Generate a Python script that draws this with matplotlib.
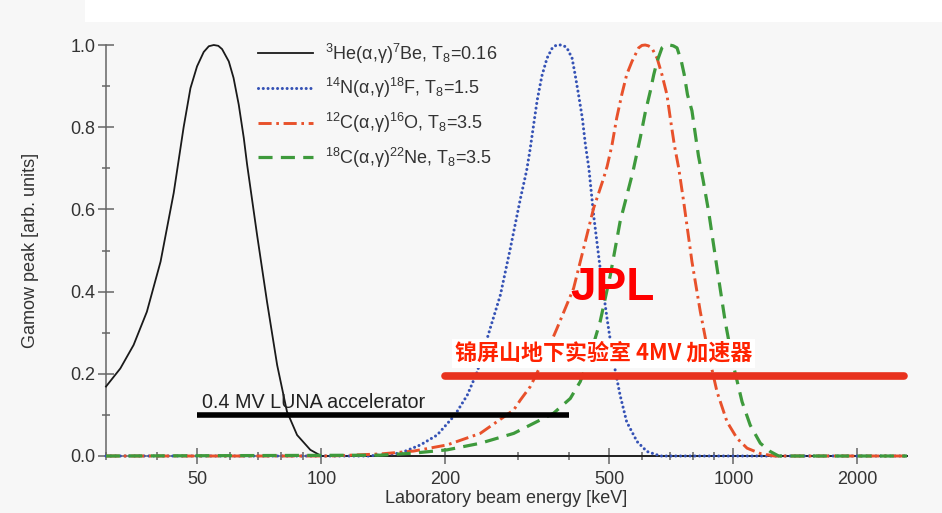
import matplotlib
matplotlib.use("Agg")
import matplotlib.pyplot as plt
from matplotlib.patches import Rectangle
from matplotlib.ticker import FixedLocator, NullFormatter, FixedFormatter

plt.rcParams['font.family'] = ['Liberation Sans', 'Noto Sans CJK SC', 'DejaVu Sans']
plt.rcParams['mathtext.fontset'] = 'custom'
plt.rcParams['mathtext.rm'] = 'Liberation Sans'
plt.rcParams['mathtext.it'] = 'Liberation Sans:italic'
plt.rcParams['mathtext.bf'] = 'Liberation Sans:bold'

# Gamow peaks: laboratory beam energy (keV) and normalised peak height
he_E = [30, 32.5, 35.0, 37.7, 40.7, 43.8, 46.3, 48.1, 49.9, 51.8, 53.3, 54.8, 56.2, 57.4,
        59.6, 61.2, 63.0, 64.8, 66.0, 69.8, 73.8, 78.1, 82.5, 87.3, 94, 100, 2640]
he_y = [0.169, 0.213, 0.270, 0.351, 0.473, 0.64, 0.80, 0.895, 0.948, 0.983, 0.997, 1.0, 0.998, 0.99,
        0.96, 0.92, 0.855, 0.774, 0.71, 0.538, 0.375, 0.221, 0.108, 0.051, 0.015, 0.0, 0.0]

n_E = [30, 130, 155.5, 174, 191, 211, 226, 239, 257, 272,
       287.5, 304, 315, 321, 328.5, 334, 343, 353, 363.6, 371,
       380, 388, 394.5, 406, 413, 421, 430, 437.5, 446, 458,
       475, 493.6, 512, 531, 551, 584, 617, 665, 2640]
n_y = [0.0, 0.0, 0.007, 0.027, 0.051, 0.100, 0.148, 0.205, 0.311, 0.392,
       0.505, 0.625, 0.695, 0.745, 0.815, 0.865, 0.925, 0.968, 0.993, 0.999,
       1.0, 0.998, 0.993, 0.968, 0.928, 0.879, 0.822, 0.757, 0.70, 0.586,
       0.457, 0.335, 0.229, 0.148, 0.083, 0.035, 0.011, 0.0, 0.0]

c_E = [30, 105, 139, 167.5, 202, 243, 293, 304, 321.5, 346,
       373, 409.5, 433, 458, 484, 494, 507.6, 521, 536, 551,
       567.5, 589, 600, 611, 622, 634, 653, 671, 690, 703,
       719, 737, 757.6, 793.5, 831.5, 871, 913, 965.6, 1021, 1080,
       1163, 1258, 2640]
c_y = [0.0, 0.0, 0.005, 0.012, 0.027, 0.055, 0.112, 0.136, 0.169, 0.234,
       0.31, 0.408, 0.505, 0.603, 0.675, 0.705, 0.757, 0.822, 0.879, 0.928,
       0.96, 0.993, 0.999, 1.0, 0.998, 0.993, 0.968, 0.928, 0.879, 0.822,
       0.757, 0.70, 0.619, 0.473, 0.351, 0.246, 0.156, 0.083, 0.043, 0.019,
       0.006, 0.0, 0.0]

ne_E = [30, 139, 167.5, 202, 243, 293, 366, 402, 425, 449.5,
        475, 502.8, 531, 570, 594.6, 611, 628.5, 641, 653, 671,
        685, 700, 715, 730, 748, 760, 774, 793.5, 808, 823,
        845, 871, 913, 955.6, 1000, 1050, 1099, 1163, 1229, 1288,
        2640]
ne_y = [0.0, 0.002, 0.007, 0.015, 0.031, 0.055, 0.104, 0.140, 0.181, 0.246,
        0.327, 0.440, 0.570, 0.69, 0.775, 0.835, 0.887, 0.928, 0.96, 0.993,
        0.999, 1.0, 0.998, 0.993, 0.96, 0.928, 0.879, 0.84, 0.785, 0.73,
        0.67, 0.595, 0.457, 0.327, 0.221, 0.132, 0.075, 0.031, 0.011, 0.0,
        0.0]

labels = [r'$^{3}$He(α,γ)$^{7}$Be, T$_{8}$=0.16',
          r'$^{14}$N(α,γ)$^{18}$F, T$_{8}$=1.5',
          r'$^{12}$C(α,γ)$^{16}$O, T$_{8}$=3.5',
          r'$^{18}$C(α,γ)$^{22}$Ne, T$_{8}$=3.5']

# accelerator energy ranges (keV) and their drawing heights
luna_range = [50, 400]
luna_level = 0.10
jp_range = [200, 2600]
jp_level = 0.195

x_ticks = [50, 100, 200, 500, 1000, 2000]
x_minor = [30, 40, 60, 70, 80, 90, 300, 400, 600, 700, 800, 900]
y_ticks = [0.0, 0.2, 0.4, 0.6, 0.8, 1.0]
y_minor = [0.1, 0.3, 0.5, 0.7, 0.9]

bg = '#f7f7f7'
text_c = '#333333'
axis_c = '#666666'

fig = plt.figure(figsize=(9.42, 5.13), dpi=100, facecolor=bg)
fig.patches.append(Rectangle((85 / 942, 491 / 513), 1, 1, transform=fig.transFigure,
                             facecolor='white', edgecolor='none', zorder=0))
ax = fig.add_axes([106 / 942, 1 - 456 / 513, (907 - 106) / 942, (456 - 45) / 513])
ax.set_facecolor(bg)
ax.set_xscale('log')
ax.set_xlim(30, 2640)
ax.set_ylim(0, 1.0)

ax.plot(he_E, he_y, color='#1a1a1a', lw=1.3, label=labels[0], clip_on=False, zorder=3)
ax.plot(n_E, n_y, color='#3552b5', lw=2.2, linestyle=(0, (0.01, 1.55)),
        dash_capstyle='round', label=labels[1], clip_on=False, zorder=4)
ax.plot(c_E, c_y, color='#e8512b', lw=2.1, linestyle=(0, (4.5, 1.6, 0.9, 1.6)),
        label=labels[2], clip_on=False, zorder=5)
ax.plot(ne_E, ne_y, color='#3e9a3c', lw=2.3, linestyle=(0, (4.4, 2.6)),
        label=labels[3], clip_on=False, zorder=6)

# accelerator ranges
ax.plot(luna_range, [luna_level] * 2, color='black', lw=4.0, solid_capstyle='butt', zorder=7)
ax.text(51.3, 0.117, '0.4 MV LUNA accelerator', fontsize=14.2, color='#222222',
        ha='left', va='baseline', zorder=8)
ax.plot(jp_range, [jp_level] * 2, color='#e8321e', lw=5.5, solid_capstyle='round',
        clip_on=False, zorder=7)
ax.text(211, 0.25, '锦屏山地下实验室 4MV 加速器', fontsize=15.8, color='#ff2200',
        family=['Noto Sans CJK SC', 'Liberation Sans'], weight='bold', ha='left', va='center',
        bbox=dict(facecolor='white', edgecolor='none', pad=2), zorder=8)
ax.text(402, 0.380, 'JPL', fontsize=33, color='#ff0000', weight='bold',
        ha='left', va='baseline', zorder=9)

# axes styling
for side in ('top', 'right'):
    ax.spines[side].set_visible(False)
for side in ('left', 'bottom'):
    ax.spines[side].set_color(axis_c)
    ax.spines[side].set_linewidth(1.1)

ax.xaxis.set_major_locator(FixedLocator(x_ticks))
ax.xaxis.set_major_formatter(FixedFormatter([str(t) for t in x_ticks]))
ax.xaxis.set_minor_locator(FixedLocator(x_minor))
ax.xaxis.set_minor_formatter(NullFormatter())
ax.yaxis.set_major_locator(FixedLocator(y_ticks))
ax.yaxis.set_major_formatter(FixedFormatter([f'{t:.1f}' for t in y_ticks]))
ax.yaxis.set_minor_locator(FixedLocator(y_minor))

ax.tick_params(which='major', direction='inout', length=11, width=1.1, color=axis_c,
               labelsize=13, labelcolor=text_c, pad=2)
ax.tick_params(axis='x', which='major', pad=5.5)
ax.tick_params(which='minor', direction='inout', length=5.5, width=1.1, color=axis_c)

ax.set_xlabel('Laboratory beam energy [keV]', fontsize=13, color=text_c, labelpad=1.5)
ax.set_ylabel('Gamow peak [arb. units]', fontsize=13, color=text_c, labelpad=23)

leg = ax.legend(loc='upper left', bbox_to_anchor=(0.19, 1.008), frameon=False,
                fontsize=13, handlelength=3.05, handletextpad=0.65, labelspacing=0.58,
                borderpad=0, borderaxespad=0)
for t in leg.get_texts():
    t.set_color(text_c)

fig.savefig('out.png', dpi=100, facecolor=bg)
